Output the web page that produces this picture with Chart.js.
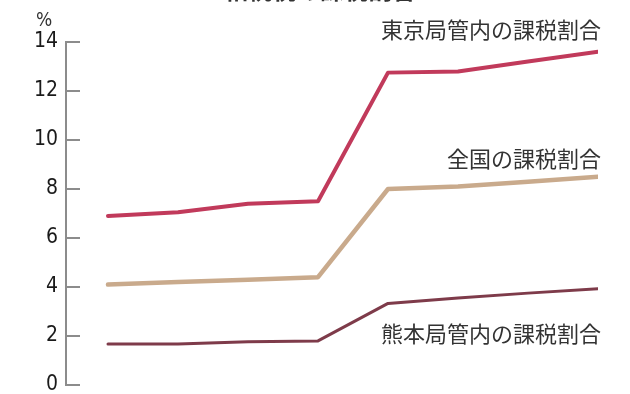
<!DOCTYPE html>
<html>
<head>
<meta charset="utf-8">
<script src="https://cdn.jsdelivr.net/npm/chart.js@4"></script>
<style>
  html, body { margin: 0; padding: 0; background: #fff; }
  #wrap { width: 630px; height: 394px; position: relative; }
</style>
</head>
<body>
<div id="wrap"><canvas id="chart"></canvas></div>
<script>
// 年（横軸の目盛りは表示しない）
const years = ['2011', '2012', '2013', '2014', '2015', '2016', '2017', '2018'];

// 課税割合（%）
const tokyoValues = [6.9, 7.05, 7.4, 7.5, 12.75, 12.8, 13.2, 13.6];
const zenkokuValues = [4.1, 4.2, 4.3, 4.4, 8.0, 8.1, 8.3, 8.5];
const kumamotoValues = [1.67, 1.67, 1.77, 1.8, 3.33, 3.55, 3.75, 3.93];

// 縦軸の目盛り
const yTicks = [0, 2, 4, 6, 8, 10, 12, 14];

// 線のラベル（文字と高さ）
const seriesLabels = ['東京局管内の課税割合', '全国の課税割合', '熊本局管内の課税割合'];
const labelLevels = [14.5, 9.25, 2.1];

const chartTitle = '相続税の課税割合';
const FONT = "'Noto Sans CJK JP', 'Noto Sans', sans-serif";
const TICK_FONT = "'Liberation Sans Narrow', 'DejaVu Sans Condensed', 'Liberation Sans', sans-serif";

function toPoints(values) {
    return values.map((v, i) => ({ x: i, y: v }));
}

// 注釈（線ラベル・%・見出し）を描く
const annotations = {
    id: 'annotations',
    afterDraw(chart) {
        const ctx = chart.ctx;
        const xs = chart.scales.x;
        const ys = chart.scales.y;
        ctx.save();
        ctx.fillStyle = '#333';
        ctx.font = '22px ' + FONT;
        ctx.textAlign = 'right';
        ctx.textBaseline = 'middle';
        const right = xs.getPixelForValue(years.length - 1) + 3;
        seriesLabels.forEach((t, i) => {
            ctx.fillText(t, right, ys.getPixelForValue(labelLevels[i]));
        });

        // %
        ctx.font = '19px ' + TICK_FONT;
        ctx.textAlign = 'left';
        ctx.fillText('%', 36, 21);

        // 見出し（上端で切れている）
        ctx.font = 'bold 24px ' + FONT;
        ctx.textAlign = 'center';
        ctx.textBaseline = 'bottom';
        ctx.fillText(chartTitle, 320, 2);
        ctx.restore();
    }
};

const ctx = document.getElementById('chart').getContext('2d');
new Chart(ctx, {
    type: 'line',
    data: {
        datasets: [
            {
                label: seriesLabels[0],
                data: toPoints(tokyoValues),
                borderColor: '#c13a5b',
                borderWidth: 4
            },
            {
                label: seriesLabels[1],
                data: toPoints(zenkokuValues),
                borderColor: '#c9aa8c',
                borderWidth: 4.5
            },
            {
                label: seriesLabels[2],
                data: toPoints(kumamotoValues),
                borderColor: '#7e3b4a',
                borderWidth: 3
            }
        ]
    },
    options: {
        responsive: true,
        maintainAspectRatio: false,
        animation: false,
        layout: { padding: { top: 42, bottom: 9, left: 0, right: 32 } },
        elements: {
            point: { radius: 0 },
            line: { tension: 0, borderCapStyle: 'round', borderJoinStyle: 'round' }
        },
        plugins: {
            legend: { display: false },
            tooltip: { enabled: false }
        },
        scales: {
            x: {
                type: 'linear',
                display: false,
                min: -0.6,
                max: years.length - 1
            },
            y: {
                min: 0,
                max: 14,
                afterBuildTicks: s => { s.ticks = yTicks.map(v => ({ value: v })); },
                afterFit: s => {
                    s.width = 66;
                    s.paddingTop = 0;
                    s.paddingBottom = 0;
                },
                grid: {
                    drawOnChartArea: false,
                    drawTicks: true,
                    tickLength: -14,
                    color: '#8c8c8c',
                    lineWidth: 2
                },
                border: { display: true, color: '#8c8c8c', width: 2 },
                ticks: {
                    padding: 22,
                    color: '#1a1a1a',
                    font: { family: TICK_FONT, size: 21, weight: '500' }
                }
            }
        }
    },
    plugins: [annotations]
});
</script>
</body>
</html>
